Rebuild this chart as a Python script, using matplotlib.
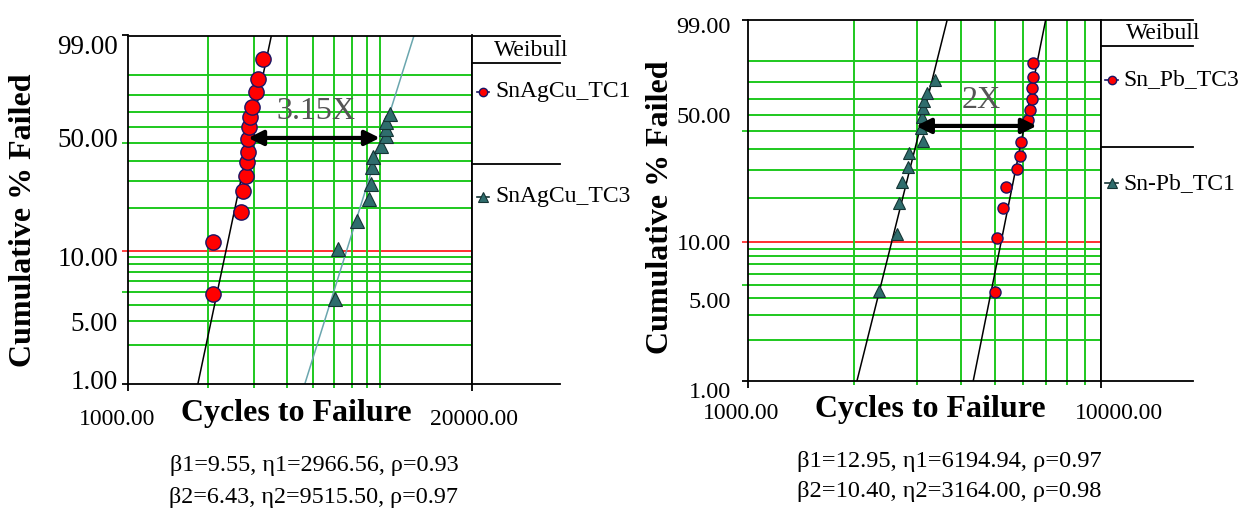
import numpy as np
import matplotlib
matplotlib.use("Agg")
import matplotlib.pyplot as plt
from matplotlib.transforms import ScaledTranslation
from matplotlib.lines import Line2D

plt.rcParams['font.family'] = ['Liberation Serif', 'DejaVu Serif']

# ---------------- data ----------------
# Left panel (SnAgCu)
sac_tc1_cycles = [2086, 2097, 2669, 2723, 2780, 2804, 2829, 2844, 2861, 2886, 2929, 3032, 3102, 3223]
sac_tc1_pct = [4.8, 11.6, 18.6, 26.0, 32.4, 39.1, 44.6, 52.7, 60.1, 66.5, 72.8, 81.7, 88.3, 95.3]
sac_tc3_cycles = [6050, 6229, 7346, 8155, 8328, 8402, 8445, 9087, 9434, 9490, 9490, 9768]
sac_tc3_pct = [4.4, 10.2, 16.3, 22.9, 28.8, 36.5, 41.8, 48.6, 54.8, 59.0, 63.3, 68.7]
sac_fit = [(9.55, 2966.56, 0.93), (6.43, 9515.50, 0.97)]

# Right panel (Sn-Pb)
snpb_tc3_cycles = [5007, 5063, 5265, 5379, 5768, 5893, 5919, 6210, 6292, 6375, 6375, 6417, 6429]
snpb_tc3_pct = [4.4, 10.8, 17.1, 23.7, 30.5, 36.8, 44.1, 56.8, 63.0, 70.0, 76.7, 82.7, 89.1]
snpb_tc1_cycles = [2352, 2635, 2680, 2722, 2842, 2861, 3122, 3081, 3101, 3122, 3148, 3205, 3390]
snpb_tc1_pct = [4.5, 11.4, 18.5, 25.3, 31.6, 38.2, 44.6, 51.8, 58.9, 64.1, 68.8, 73.7, 80.9]
snpb_fit = [(12.95, 6194.94, 0.97), (10.40, 3164.00, 0.98)]

y_ticks = [1, 5, 10, 50, 99]
y_grid_green = [2, 3, 4, 5, 6, 7, 8, 9, 20, 30, 40, 50, 60, 70, 80, 90]
y_grid_red = [10]
x_grid = [2000, 3000, 4000, 5000, 6000, 7000, 8000, 9000]

GREEN = '#1ec81e'
RED_LINE = '#ff3030'
RED = '#ff0000'
NAVY = '#1a1464'
TEAL = '#2f6d6d'
TEAL_EDGE = '#143434'
TEAL_LINE = '#6aa6ae'

W, H = 1251, 508
fig = plt.figure(figsize=(W / 100, H / 100), dpi=100)


def fwd(p):
    p = np.clip(np.asarray(p, dtype=float), 1e-6, 100 - 1e-6) / 100.0
    return np.log(-np.log(1 - p))


def inv(w):
    return 100.0 * (1 - np.exp(-np.exp(np.asarray(w, dtype=float))))


def rect(x0, y0, x1, y1):
    return [x0 / W, (H - y1) / H, (x1 - x0) / W, (y1 - y0) / H]


def fit_line(beta, eta):
    F = np.array([1.0, 99.0]) / 100.0
    t = eta * (-np.log(1 - F)) ** (1.0 / beta)
    return t, F * 100


def offset(lbl, dx, dy):
    lbl.set_transform(lbl.get_transform() + ScaledTranslation(dx / 100, dy / 100, fig.dpi_scale_trans))


def panel(main_px, leg_px, xmax, series, fits, fit_colors, xlab_offsets, ylab_offsets,
          legend_title_pos, legend_items, sep_y, ylab_pad, ylab_size):
    ax = fig.add_axes(rect(*main_px))
    ax.set_xscale('log')
    ax.set_yscale('function', functions=(fwd, inv))
    ax.set_xlim(1000, xmax)
    ax.set_ylim(1, 99)
    for v in y_grid_green:
        ax.axhline(v, color=GREEN, lw=1.4, zorder=1)
    for v in y_grid_red:
        ax.axhline(v, color=RED_LINE, lw=1.4, zorder=1)
    for v in x_grid:
        ax.axvline(v, color=GREEN, lw=1.4, zorder=1)
    for s in ax.spines.values():
        s.set_color('black')
        s.set_linewidth(1.3)
    # fitted Weibull lines from the printed parameters
    for (beta, eta, rho), c in zip(fits, fit_colors):
        t, p = fit_line(beta, eta)
        ax.plot(t, p, color=c, lw=1.1, zorder=2)
    # data points
    for xs, ys, kw in series:
        ax.plot(xs, ys, linestyle='none', zorder=3, **kw)
    # ticks
    ax.set_xticks([1000, xmax])
    ax.set_xticklabels(['%.2f' % v for v in [1000, xmax]], fontsize=17)
    ax.set_xticks(x_grid, minor=True)
    ax.tick_params(axis='x', which='minor', length=3, width=1.4, color=GREEN, labelbottom=False)
    ax.tick_params(axis='x', which='major', length=5, width=1.3, color='black', pad=12)
    ax.set_yticks(y_ticks)
    ax.set_yticklabels(['%.2f' % v for v in y_ticks], fontsize=ylab_size)
    ax.yaxis.set_minor_locator(matplotlib.ticker.NullLocator())
    ax.tick_params(axis='y', which='major', length=4, width=1.3, pad=ylab_pad)
    tick_cols = {1: 'black', 5: GREEN, 10: RED_LINE, 50: GREEN, 99: 'black'}
    for tk, v in zip(ax.yaxis.get_major_ticks(), y_ticks):
        tk.tick1line.set_markeredgecolor(tick_cols[v])
        tk.tick1line.set_color(tick_cols[v])
    for lbl, (dx, dy) in zip(ax.get_xticklabels(), xlab_offsets):
        offset(lbl, dx, dy)
    for lbl, (dx, dy) in zip(ax.get_yticklabels(), ylab_offsets):
        offset(lbl, dx, dy)

    lg = fig.add_axes(rect(*leg_px))
    lg.set_xlim(0, 1)
    lg.set_ylim(0, 1)
    lg.set_xticks([])
    lg.set_yticks([])
    lg.spines['right'].set_visible(False)
    for k in ['left', 'top', 'bottom']:
        lg.spines[k].set_linewidth(1.3)
    for yy in sep_y:
        lg.plot([0, 1], [yy, yy], color='black', lw=1.3, clip_on=False)
    lg.text(legend_title_pos[0], legend_title_pos[1], 'Weibull', fontsize=17,
            ha='center', va='center')
    for (mx, my, tx, label, kw) in legend_items:
        lg.add_line(Line2D([mx - 0.07, mx + 0.07], [my, my], color=kw['mec'], lw=1.2))
        lg.plot([mx], [my], linestyle='none', **kw)
        lg.text(tx, my, label, fontsize=17, ha='left', va='center')
    return ax, lg


# ---------------- left panel ----------------
axL, lgL = panel(
    (128.3, 35.5, 472, 384.3), (472, 35.5, 559.5, 384.3), 20000,
    [(sac_tc1_cycles, sac_tc1_pct, dict(marker='o', ms=11, mfc=RED, mec=NAVY, mew=1.0)),
     (sac_tc3_cycles, sac_tc3_pct, dict(marker='^', ms=9.5, mfc=TEAL, mec=TEAL_EDGE, mew=0.8))],
    sac_fit, ['black', TEAL_LINE],
    [(-11, -1), (2, -1)],
    [(0, 5), (0, -30), (0, -6), (0, 6), (0, -9.5)],
    (0.68, 0.958),
    [(0.126, 0.839, 0.263, 'SnAgCu_TC1', dict(marker='o', ms=6, mfc=RED, mec=NAVY, mew=1.0)),
     (0.126, 0.538, 0.263, 'SnAgCu_TC3', dict(marker='^', ms=6.5, mfc=TEAL, mec=TEAL_EDGE, mew=0.8))],
    [0.922, 0.6316], 3.5, 19.5)
axL.annotate('', xy=(8954, 53.3), xytext=(2844, 53.3),
             arrowprops=dict(arrowstyle='<|-|>', lw=3, color='black', mutation_scale=22,
                             shrinkA=0, shrinkB=0), zorder=5)
axL.text(5129, 70.1, '3.15X', fontsize=23, color='#555555', ha='center', va='center', zorder=5)

# ---------------- right panel ----------------
axR, lgR = panel(
    (748.3, 19.7, 1101, 380.8), (1101, 19.7, 1193, 380.8), 10000,
    [(snpb_tc3_cycles, snpb_tc3_pct, dict(marker='o', ms=8, mfc=RED, mec=NAVY, mew=1.0)),
     (snpb_tc1_cycles, snpb_tc1_pct, dict(marker='^', ms=8.5, mfc=TEAL, mec=TEAL_EDGE, mew=0.8))],
    snpb_fit, ['black', 'black'],
    [(-7, 1), (18, 1)],
    [(0, -9), (0, -15), (0, 0), (0, 16), (0, -5)],
    (0.674, 0.963),
    [(0.116, 0.833, 0.239, 'Sn_Pb_TC3', dict(marker='o', ms=6, mfc=RED, mec=NAVY, mew=1.0)),
     (0.116, 0.547, 0.239, 'Sn-Pb_TC1', dict(marker='^', ms=6.5, mfc=TEAL, mec=TEAL_EDGE, mew=0.8))],
    [0.9272, 0.6483], 8.5, 17.5)
axR.annotate('', xy=(6573, 53.2), xytext=(2989, 53.2),
             arrowprops=dict(arrowstyle='<|-|>', lw=3, color='black', mutation_scale=22,
                             shrinkA=0, shrinkB=0), zorder=5)
axR.text(4569, 69.2, '2X', fontsize=23, color='#555555', ha='center', va='center', zorder=5)

# ---------------- axis titles and parameter text ----------------
def ftext(x, y, s, **kw):
    fig.text(x / W, 1 - y / H, s, **kw)

ftext(296, 413, 'Cycles to Failure', fontsize=23, fontweight='bold', ha='center', va='center')
ftext(930, 410, 'Cycles to Failure', fontsize=23, fontweight='bold', ha='center', va='center')
ftext(24, 220, 'Cumulative % Failed', fontsize=23, fontweight='bold', ha='center', va='center', rotation=90)
ftext(660, 207, 'Cumulative % Failed', fontsize=23, fontweight='bold', ha='center', va='center', rotation=90)

for i, (b, e, r) in enumerate(sac_fit):
    ftext(314, 466 + 31 * i, '\u03b2%d=%.2f, \u03b7%d=%.2f, \u03c1=%.2f' % (i + 1, b, i + 1, e, r),
          fontsize=17.4, ha='center', va='center')
for i, (b, e, r) in enumerate(snpb_fit):
    ftext(949, 462 + 30 * i, '\u03b2%d=%.2f, \u03b7%d=%.2f, \u03c1=%.2f' % (i + 1, b, i + 1, e, r),
          fontsize=17.6, ha='center', va='center')

fig.savefig('out.png', dpi=100)
